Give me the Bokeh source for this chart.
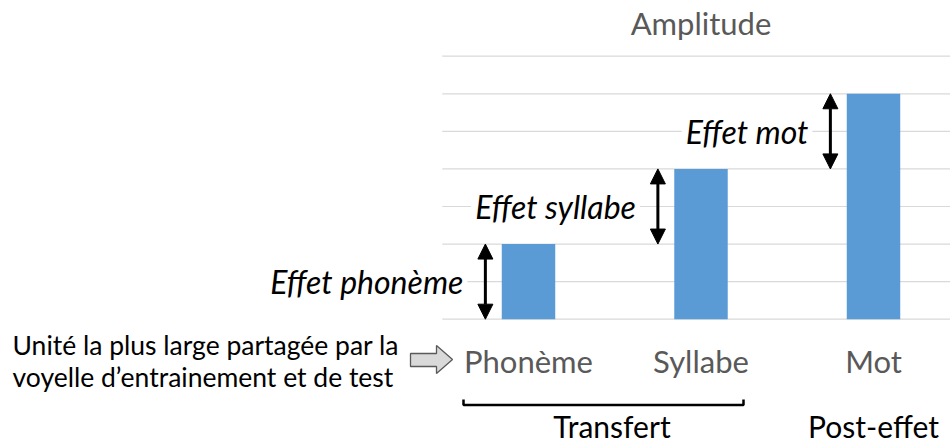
from bokeh.plotting import figure
from bokeh.models import Range1d, Arrow, NormalHead, Label
from bokeh.core.properties import value
from bokeh.embed import file_html
from bokeh.resources import INLINE

# ---- data ----
categories = ["Phonème", "Syllabe", "Mot"]
amplitude = [2, 4, 6]
effect_labels = ["Effet phonème", "Effet syllabe", "Effet mot"]
grid_values = [0, 1, 2, 3, 4, 5, 6, 7]
title_text = "Amplitude"
side_text = ["Unité la plus large partagée par la", "voyelle d\u2019entrainement et de test"]
group_labels = ["Transfert", "Post-effet"]

W, H = 950, 445
X_PPU = 172.5
Y_PPU = 37.57
x_start = 0.5 - 528 / X_PPU
x_end = x_start + W / X_PPU
y_top = 318.7 / Y_PPU
y_bottom = y_top - H / Y_PPU


def px_x(X):
    return x_start + X / X_PPU


def px_y(Y):
    return y_top - Y / Y_PPU


p = figure(width=W, height=H, output_backend="svg", toolbar_location=None,
           x_range=Range1d(x_start, x_end), y_range=Range1d(y_bottom, y_top),
           x_axis_location=None, y_axis_location=None, min_border=0,
           tools="")
p.outline_line_color = None
p.xgrid.visible = False
p.ygrid.visible = False
p.background_fill_color = "white"

FONT = value("Lato")
GREY = "#595959"

xs = [i + 0.5 for i in range(len(categories))]

# gridlines
p.segment(x0=[0] * len(grid_values), x1=[x_end] * len(grid_values),
          y0=grid_values, y1=grid_values, line_color="#D9D9D9", line_width=1.2)

# effect labels (white background hides gridlines)
bar_w = 0.31
prev = [0] + amplitude[:-1]
arrow_x = [x - bar_w / 2 - 0.095 for x in xs]
for ax, lo, hi, lab in zip(arrow_x, prev, amplitude, effect_labels):
    mid = (lo + hi) / 2
    p.add_layout(Label(x=ax, y=mid, x_offset=-18, text=lab, text_align="right",
                       text_baseline="middle", text_font="Lato", text_font_style="italic",
                       text_font_size="32px", text_color="black",
                       background_fill_color="white", padding=4))

# bars
p.vbar(x=xs, top=amplitude, bottom=0, width=bar_w, fill_color="#5B9BD5", line_color=None)

# double arrows
for ax, lo, hi in zip(arrow_x, prev, amplitude):
    p.add_layout(Arrow(x_start=ax, y_start=lo, x_end=ax, y_end=hi, line_width=3, line_color="black",
                       start=NormalHead(size=15, fill_color="black", line_color="black", line_width=1),
                       end=NormalHead(size=15, fill_color="black", line_color="black", line_width=1)))

# category labels
p.text(x=xs, y=[px_y(360)] * len(xs), text=categories, text_font=FONT, text_font_size="31px",
       text_color=GREY, text_align="center", text_baseline="middle")

# title
p.text(x=[sum(xs) / len(xs)], y=[px_y(22)], text=[title_text], text_font=FONT, text_font_size="31px",
       text_color=GREY, text_align="center", text_baseline="middle")

# side text
p.text(x=[px_x(12)] * 2, y=[px_y(344), px_y(376)], text=side_text, text_font=FONT,
       text_font_size="26.5px", text_color="black", text_align="left", text_baseline="middle")

# block arrow
bx = [410, 436, 436, 452, 436, 436, 410]
by = [353, 353, 345, 359, 373, 366, 366]
p.patch(x=[px_x(v) for v in bx], y=[px_y(v) for v in by], fill_color="#D9D9D9",
        line_color=GREY, line_width=1.3)

# bracket
p.line(x=[px_x(v) for v in [463, 463, 743, 743]], y=[px_y(v) for v in [399, 404.5, 404.5, 399]],
       line_color="black", line_width=2.5)

# group labels
p.text(x=[px_x(611.5), xs[2]], y=[px_y(425)] * 2, text=group_labels, text_font=FONT,
       text_font_size="30px", text_color="black", text_align="center", text_baseline="middle")

open("out.html", "w").write(file_html(p, INLINE))
